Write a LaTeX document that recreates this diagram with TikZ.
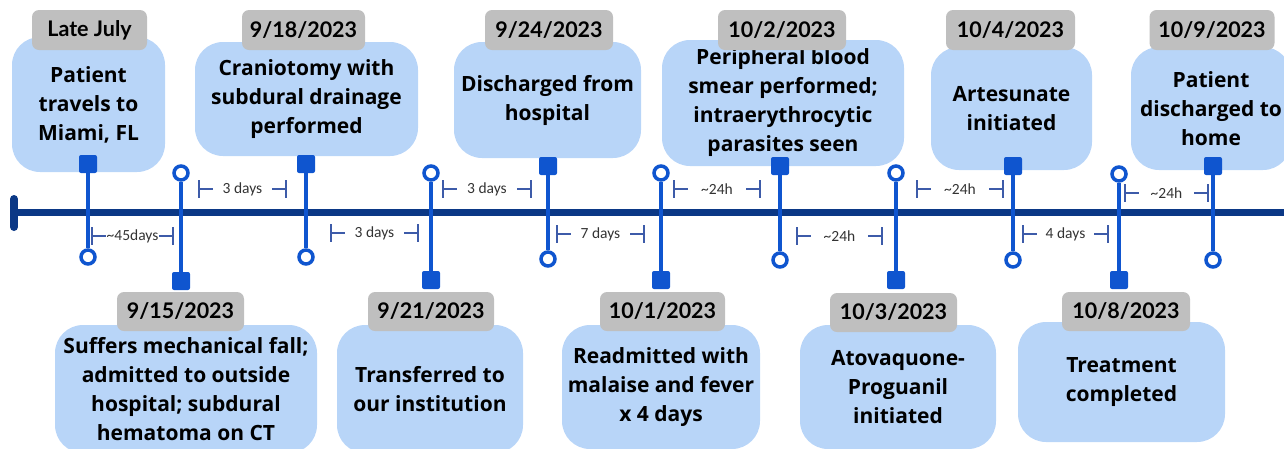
\documentclass[tikz,border=0pt]{standalone}
\usepackage{fontspec}
\setmainfont{Open Sans}
\newfontfamily\datefont{Lato}
\newfontfamily\labelfont{Carlito}
\definecolor{axisnavy}{HTML}{0B3886}
\definecolor{stemblue}{HTML}{0F55CF}
\definecolor{boxblue}{HTML}{B8D5F8}
\definecolor{tabgray}{HTML}{BFBFBF}
\definecolor{gapline}{HTML}{3D5BA9}
\definecolor{gaptxt}{HTML}{333333}
\tikzset{
  evbox/.style={fill=boxblue, rounded corners=28pt, align=center, inner sep=0pt,
    font=\bfseries\fontsize{21}{29}\selectfont},
  datetab/.style={fill=tabgray, rounded corners=7pt, minimum height=40, inner sep=0pt,
    font=\datefont\bfseries\fontsize{21.5}{21.5}\selectfont},
  sq/.style={fill=stemblue, minimum size=18, inner sep=0pt, rounded corners=2pt},
  ring/.style={circle, draw=stemblue, line width=3.5pt, fill=white, minimum size=14, inner sep=0pt},
  stem/.style={stemblue, line width=4pt},
  gap/.style={gapline, line width=1.1pt},
  gaptext/.style={text=gaptxt, inner sep=1pt, font=\labelfont\fontsize{15.5}{15.5}\selectfont},
}
% interval mark: name, left x, right x, y, label
\newcommand{\gapmark}[5]{%
  \draw[gap] (#2,#4-9) -- (#2,#4+9) (#2,#4) -- ++(14,0);
  \draw[gap] (#3,#4-9) -- (#3,#4+9) (#3,#4) -- ++(-14,0);
  \node[gaptext] (#1) at ({(#2+#3)/2},#4) {#5};
}
\begin{document}
\begin{tikzpicture}[x=1pt, y=-1pt]
\useasboundingbox (0,0) rectangle (1284,448);
\clip (0,0) rectangle (1284,448);

% event boxes above the axis
\node[evbox, minimum width=153, minimum height=135] (b1) at (88.5,104.5) {Patient\\travels to\\Miami, FL};
\node[evbox, minimum width=223, minimum height=114] (b3) at (306.5,99) {Craniotomy with\\subdural drainage\\performed};
\node[evbox, minimum width=187, minimum height=116] (b5) at (547.5,100) {Discharged from\\hospital};
\node[evbox, minimum width=242, minimum height=126] (b7) at (783,103) {Peripheral blood\\smear performed;\\intraerythrocytic\\parasites seen};
\node[evbox, minimum width=161, minimum height=123] (b9) at (1011.5,108.5) {Artesunate\\initiated};
\node[evbox, minimum width=160, minimum height=123] (b11) at (1211,108.5) {Patient\\discharged to\\home};

% event boxes below the axis
\node[evbox, minimum width=262, minimum height=128] (b2) at (186,389) {Suffers mechanical fall;\\admitted to outside\\hospital; subdural\\hematoma on CT};
\node[evbox, minimum width=186, minimum height=128] (b4) at (430,389) {Transferred to\\our institution};
\node[evbox, minimum width=198, minimum height=124] (b6) at (661,387) {Readmitted with\\malaise and fever\\x 4 days};
\node[evbox, minimum width=196, minimum height=124] (b8) at (898,387) {Atovaquone-\\Proguanil\\initiated};
\node[evbox, minimum width=207, minimum height=120] (b10) at (1121.5,382) {Treatment\\completed};

% date tabs
\node[datetab, minimum width=115] (t1) at (89.5,30) {Late July};
\node[datetab, minimum width=123] (t3) at (303.5,30) {9/18/2023};
\node[datetab, minimum width=128] (t5) at (549,30) {9/24/2023};
\node[datetab, minimum width=128] (t7) at (782,30) {10/2/2023};
\node[datetab, minimum width=129] (t9) at (1010.5,30) {10/4/2023};
\node[datetab, minimum width=125] (t11) at (1212,30) {10/9/2023};
\node[datetab, minimum width=127, minimum height=39] (t2) at (180.5,311.5) {9/15/2023};
\node[datetab, minimum width=126, minimum height=39] (t4) at (431,311.5) {9/21/2023};
\node[datetab, minimum width=125, minimum height=39] (t6) at (662.5,311.5) {10/1/2023};
\node[datetab, minimum width=127, minimum height=39] (t8) at (893.5,312.5) {10/3/2023};
\node[datetab, minimum width=128, minimum height=39] (t10) at (1126,311.5) {10/8/2023};

% main axis with its left end cap
\coordinate (axL) at (14,212.5);
\coordinate (axR) at (1290,212.5);
\coordinate (capT) at (14,199);
\coordinate (capB) at (14,227);
\draw[axisnavy, line width=6.5pt] (axL) -- (axR);
\draw[axisnavy, line width=8pt, line cap=round] (capT) -- (capB);

% interval marks
\gapmark{g1}{92}{173}{236}{\textasciitilde45days}
\gapmark{g2}{199}{286}{189}{3 days}
\gapmark{g3}{331}{418}{233}{3 days}
\gapmark{g4}{443}{531}{189}{3 days}
\gapmark{g5}{557}{644}{234}{7 days}
\gapmark{g6}{674}{760}{189}{\textasciitilde24h}
\gapmark{g7}{797}{882}{236}{\textasciitilde24h}
\gapmark{g8}{917}{1003}{189}{\textasciitilde24h}
\gapmark{g9}{1023}{1108}{234}{4 days}
\gapmark{g10}{1125}{1208}{193}{\textasciitilde24h}

% stem ends
\node[sq] (s1) at (88,164) {};    \node[ring] (c1) at (88,257) {};
\node[ring] (c2) at (181,173) {}; \node[sq] (s2) at (181,281) {};
\node[sq] (s3) at (306,164) {};   \node[ring] (c3) at (306,257) {};
\node[ring] (c4) at (431,173) {}; \node[sq] (s4) at (431,280) {};
\node[sq] (s5) at (548,166) {};   \node[ring] (c5) at (548,259) {};
\node[ring] (c6) at (661,173) {}; \node[sq] (s6) at (661,280) {};
\node[sq] (s7) at (780,166) {};   \node[ring] (c7) at (780,260) {};
\node[ring] (c8) at (896,173) {}; \node[sq] (s8) at (896,280) {};
\node[sq] (s9) at (1013,166) {};  \node[ring] (c9) at (1013,260) {};
\node[ring] (c10) at (1119,174) {}; \node[sq] (s10) at (1119,280) {};
\node[sq] (s11) at (1213,166) {}; \node[ring] (c11) at (1213,260) {};

% stems
\foreach \i in {1,...,11} { \draw[stem] (s\i) -- (c\i); }
\end{tikzpicture}
\end{document}
